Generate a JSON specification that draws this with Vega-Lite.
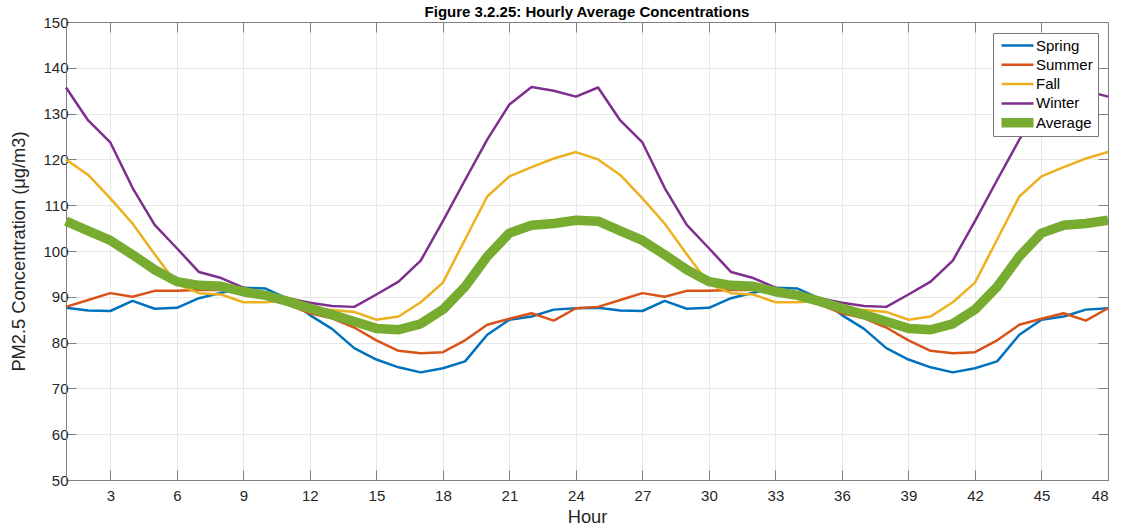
{
  "$schema": "https://vega.github.io/schema/vega-lite/v6.json",
  "width": 1042,
  "height": 458,
  "autosize": {"type": "none"},
  "padding": {"left": 66, "top": 22, "right": 14, "bottom": 49},
  "background": "white",
  "title": {
    "text": "Figure 3.2.25: Hourly Average Concentrations",
    "font": "Liberation Sans",
    "fontSize": 15,
    "fontWeight": "bold",
    "color": "#000000",
    "anchor": "middle",
    "frame": "group",
    "baseline": "alphabetic",
    "offset": -17
  },
  "config": {
    "view": {"stroke": null},
    "font": "Liberation Sans",
    "axis": {
      "labelFont": "Liberation Sans",
      "titleFont": "Liberation Sans",
      "labelFontSize": 15,
      "titleFontSize": 18.3,
      "titleFontWeight": "normal",
      "labelColor": "#262626",
      "titleColor": "#262626",
      "domainColor": "#808080",
      "domainWidth": 1,
      "tickColor": "#808080",
      "tickWidth": 1,
      "tickSize": -10,
      "gridColor": "#e8e8e8",
      "gridWidth": 1
    },
    "legend": {
      "orient": "none",
      "legendX": 927,
      "legendY": 11,
      "symbolType": "M0,0H64",
      "symbolSize": 1,
      "symbolStrokeWidth": 2.5,
      "symbolOffset": -4,
      "labelOffset": 27,
      "padding": 5,
      "rowPadding": 3.3,
      "clipHeight": 15,
      "strokeColor": "#777777",
      "fillColor": "#ffffff",
      "labelFont": "Liberation Sans",
      "labelFontSize": 15,
      "labelColor": "#000000"
    }
  },
  "data": {
    "values": [
      {"Hour": 1, "Spring": 87.6, "Summer": 87.8, "Fall": 120.0, "Winter": 135.7, "Average": 106.5},
      {"Hour": 2, "Spring": 87.0, "Summer": 89.3, "Fall": 116.6, "Winter": 128.5, "Average": 104.4},
      {"Hour": 3, "Spring": 86.9, "Summer": 90.8, "Fall": 111.5, "Winter": 123.7, "Average": 102.3},
      {"Hour": 4, "Spring": 89.1, "Summer": 90.0, "Fall": 106.0, "Winter": 113.8, "Average": 99.2},
      {"Hour": 5, "Spring": 87.4, "Summer": 91.3, "Fall": 99.3, "Winter": 105.7, "Average": 95.9},
      {"Hour": 6, "Spring": 87.6, "Summer": 91.3, "Fall": 92.8, "Winter": 100.6, "Average": 93.3},
      {"Hour": 7, "Spring": 89.7, "Summer": 91.5, "Fall": 90.8, "Winter": 95.4, "Average": 92.5},
      {"Hour": 8, "Spring": 90.9, "Summer": 91.5, "Fall": 90.5, "Winter": 94.1, "Average": 92.3},
      {"Hour": 9, "Spring": 92.0, "Summer": 91.2, "Fall": 88.8, "Winter": 92.0, "Average": 91.1},
      {"Hour": 10, "Spring": 91.8, "Summer": 90.3, "Fall": 88.8, "Winter": 90.8, "Average": 90.3},
      {"Hour": 11, "Spring": 89.6, "Summer": 88.3, "Fall": 89.2, "Winter": 89.7, "Average": 89.0},
      {"Hour": 12, "Spring": 86.0, "Summer": 86.4, "Fall": 87.5, "Winter": 88.7, "Average": 87.5},
      {"Hour": 13, "Spring": 83.0, "Summer": 85.3, "Fall": 87.1, "Winter": 88.0, "Average": 86.1},
      {"Hour": 14, "Spring": 78.8, "Summer": 83.3, "Fall": 86.7, "Winter": 87.8, "Average": 84.6},
      {"Hour": 15, "Spring": 76.3, "Summer": 80.5, "Fall": 85.0, "Winter": 90.5, "Average": 83.1},
      {"Hour": 16, "Spring": 74.6, "Summer": 78.2, "Fall": 85.7, "Winter": 93.3, "Average": 82.8},
      {"Hour": 17, "Spring": 73.5, "Summer": 77.7, "Fall": 88.8, "Winter": 97.9, "Average": 84.1},
      {"Hour": 18, "Spring": 74.4, "Summer": 77.9, "Fall": 93.1, "Winter": 106.5, "Average": 87.2},
      {"Hour": 19, "Spring": 75.9, "Summer": 80.5, "Fall": 102.5, "Winter": 115.5, "Average": 92.2},
      {"Hour": 20, "Spring": 81.7, "Summer": 83.9, "Fall": 111.9, "Winter": 124.3, "Average": 98.8},
      {"Hour": 21, "Spring": 85.0, "Summer": 85.2, "Fall": 116.3, "Winter": 132.0, "Average": 103.9},
      {"Hour": 22, "Spring": 85.7, "Summer": 86.4, "Fall": 118.3, "Winter": 135.8, "Average": 105.6},
      {"Hour": 23, "Spring": 87.2, "Summer": 84.8, "Fall": 120.2, "Winter": 135.0, "Average": 106.0},
      {"Hour": 24, "Spring": 87.5, "Summer": 87.5, "Fall": 121.6, "Winter": 133.7, "Average": 106.7},
      {"Hour": 25, "Spring": 87.6, "Summer": 87.8, "Fall": 120.0, "Winter": 135.7, "Average": 106.5},
      {"Hour": 26, "Spring": 87.0, "Summer": 89.3, "Fall": 116.6, "Winter": 128.5, "Average": 104.4},
      {"Hour": 27, "Spring": 86.9, "Summer": 90.8, "Fall": 111.5, "Winter": 123.7, "Average": 102.3},
      {"Hour": 28, "Spring": 89.1, "Summer": 90.0, "Fall": 106.0, "Winter": 113.8, "Average": 99.2},
      {"Hour": 29, "Spring": 87.4, "Summer": 91.3, "Fall": 99.3, "Winter": 105.7, "Average": 95.9},
      {"Hour": 30, "Spring": 87.6, "Summer": 91.3, "Fall": 92.8, "Winter": 100.6, "Average": 93.3},
      {"Hour": 31, "Spring": 89.7, "Summer": 91.5, "Fall": 90.8, "Winter": 95.4, "Average": 92.5},
      {"Hour": 32, "Spring": 90.9, "Summer": 91.5, "Fall": 90.5, "Winter": 94.1, "Average": 92.3},
      {"Hour": 33, "Spring": 92.0, "Summer": 91.2, "Fall": 88.8, "Winter": 92.0, "Average": 91.1},
      {"Hour": 34, "Spring": 91.8, "Summer": 90.3, "Fall": 88.8, "Winter": 90.8, "Average": 90.3},
      {"Hour": 35, "Spring": 89.6, "Summer": 88.3, "Fall": 89.2, "Winter": 89.7, "Average": 89.0},
      {"Hour": 36, "Spring": 86.0, "Summer": 86.4, "Fall": 87.5, "Winter": 88.7, "Average": 87.5},
      {"Hour": 37, "Spring": 83.0, "Summer": 85.3, "Fall": 87.1, "Winter": 88.0, "Average": 86.1},
      {"Hour": 38, "Spring": 78.8, "Summer": 83.3, "Fall": 86.7, "Winter": 87.8, "Average": 84.6},
      {"Hour": 39, "Spring": 76.3, "Summer": 80.5, "Fall": 85.0, "Winter": 90.5, "Average": 83.1},
      {"Hour": 40, "Spring": 74.6, "Summer": 78.2, "Fall": 85.7, "Winter": 93.3, "Average": 82.8},
      {"Hour": 41, "Spring": 73.5, "Summer": 77.7, "Fall": 88.8, "Winter": 97.9, "Average": 84.1},
      {"Hour": 42, "Spring": 74.4, "Summer": 77.9, "Fall": 93.1, "Winter": 106.5, "Average": 87.2},
      {"Hour": 43, "Spring": 75.9, "Summer": 80.5, "Fall": 102.5, "Winter": 115.5, "Average": 92.2},
      {"Hour": 44, "Spring": 81.7, "Summer": 83.9, "Fall": 111.9, "Winter": 124.3, "Average": 98.8},
      {"Hour": 45, "Spring": 85.0, "Summer": 85.2, "Fall": 116.3, "Winter": 132.0, "Average": 103.9},
      {"Hour": 46, "Spring": 85.7, "Summer": 86.4, "Fall": 118.3, "Winter": 135.8, "Average": 105.6},
      {"Hour": 47, "Spring": 87.2, "Summer": 84.8, "Fall": 120.2, "Winter": 135.0, "Average": 106.0},
      {"Hour": 48, "Spring": 87.5, "Summer": 87.5, "Fall": 121.6, "Winter": 133.7, "Average": 106.7}
    ]
  },
  "transform": [
    {"fold": ["Spring", "Summer", "Fall", "Winter", "Average"], "as": ["Season", "PM25"]}
  ],
  "layer": [
    {
      "mark": {"type": "line", "strokeJoin": "round", "strokeCap": "butt"},
      "encoding": {
        "x": {
          "field": "Hour",
          "type": "quantitative",
          "scale": {"domain": [1, 48], "nice": false, "zero": false},
          "axis": {
            "orient": "bottom",
            "values": [3, 6, 9, 12, 15, 18, 21, 24, 27, 30, 33, 36, 39, 42, 45, 48],
            "title": "Hour",
            "labelPadding": 18,
            "titlePadding": 5,
            "grid": true
          }
        },
        "y": {
          "field": "PM25",
          "type": "quantitative",
          "scale": {"domain": [50, 150], "nice": false, "zero": false},
          "axis": {
            "orient": "left",
            "values": [50, 60, 70, 80, 90, 100, 110, 120, 130, 140, 150],
            "title": "PM2.5 Concentration (μg/m3)",
            "labelPadding": 8,
            "titlePadding": 14,
            "grid": true
          }
        },
        "color": {
          "field": "Season",
          "type": "nominal",
          "sort": ["Spring", "Summer", "Fall", "Winter", "Average"],
          "scale": {
            "domain": ["Spring", "Summer", "Fall", "Winter", "Average"],
            "range": ["#0072BD", "#D95319", "#EDB120", "#7E2F8E", "#77AC30"]
          },
          "legend": {
            "title": null,
            "encode": {
              "symbols": {
                "update": {
                  "strokeWidth": {"signal": "datum.value === 'Average' ? 10 : 2.5"}
                }
              }
            }
          }
        },
        "strokeWidth": {
          "field": "Season",
          "type": "nominal",
          "sort": ["Spring", "Summer", "Fall", "Winter", "Average"],
          "scale": {
            "type": "ordinal",
            "domain": ["Spring", "Summer", "Fall", "Winter", "Average"],
            "range": [2.5, 2.5, 2.5, 2.5, 9.5]
          },
          "legend": null
        }
      }
    },
    {
      "mark": {"type": "point", "opacity": 0},
      "encoding": {
        "x": {
          "field": "Hour",
          "type": "quantitative",
          "axis": {
            "orient": "top",
            "values": [3, 6, 9, 12, 15, 18, 21, 24, 27, 30, 33, 36, 39, 42, 45, 48],
            "labels": false,
            "title": null,
            "grid": false
          }
        },
        "y": {
          "field": "PM25",
          "type": "quantitative",
          "axis": {
            "orient": "right",
            "values": [50, 60, 70, 80, 90, 100, 110, 120, 130, 140, 150],
            "labels": false,
            "title": null,
            "grid": false
          }
        }
      }
    }
  ],
  "resolve": {"axis": {"x": "independent", "y": "independent"}}
}
